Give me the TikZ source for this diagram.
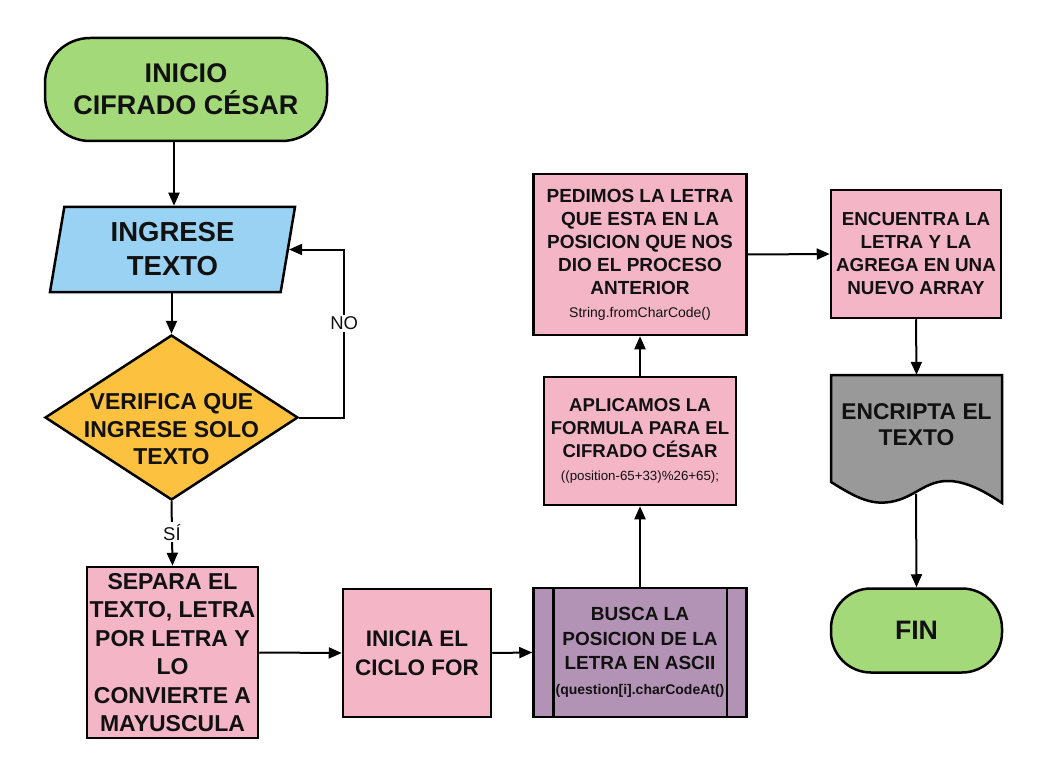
\documentclass[tikz,border=0pt]{standalone}
\usepackage{fontspec}
\setmainfont{Liberation Sans}
\usetikzlibrary{shapes.geometric,arrows.meta,calc}
\definecolor{cgreen}{HTML}{A4D97A}
\definecolor{cblue}{HTML}{9AD2F3}
\definecolor{cyellow}{HTML}{FCC23F}
\definecolor{cpink}{HTML}{F4B6C7}
\definecolor{cpurple}{HTML}{B393B5}
\definecolor{cgray}{HTML}{999999}
\definecolor{ctext}{HTML}{111111}
\newcommand{\fs}[2]{\fontsize{#1}{#2}\selectfont}
\begin{document}
\begin{tikzpicture}[x=1pt,y=-1pt,
  box/.style={draw=black, line width=2.5pt, inner sep=0pt, align=center, text=ctext},
  pill/.style={box, fill=cgreen, rounded corners=45pt},
  procbox/.style={box, fill=cpink},
  arr/.style={line width=2pt, -{Triangle[length=13pt,width=11pt]}},
  lbl/.style={fill=white, inner sep=2pt, font=\fs{18.5}{22}, text=ctext}]
\fill[white] (0,0) rectangle (1061,765);
\useasboundingbox (0,0) rectangle (1061,765);

% start
\node[pill, minimum width=282pt, minimum height=103pt, font=\bfseries\fs{27}{32}] (start) at (186,89.5) {INICIO\\CIFRADO CÉSAR};

% input
\node[box, fill=cblue, shape=trapezium, trapezium left angle=75, trapezium right angle=105,
  trapezium stretches body, minimum width=245pt, minimum height=85pt,
  font=\bfseries\fs{27.5}{34}] (ingreso) at (172.5,249.5) {INGRESE\\TEXTO};

% decision
\node[box, fill=cyellow, shape=diamond, minimum width=253pt, minimum height=165pt,
  label={[yshift=-12pt, align=center, text=ctext, font=\bfseries\fs{23}{27.5}]center:{VERIFICA QUE\\INGRESE SOLO\\TEXTO}}] (verifica) at (171.5,417.5) {};

% process boxes
\node[procbox, minimum width=171pt, minimum height=171pt, font=\bfseries\fs{23}{28.5}] (separa) at (172.5,652.5)
  {SEPARA EL\\TEXTO, LETRA\\POR LETRA Y\\LO\\CONVIERTE A\\MAYUSCULA};
\node[procbox, minimum width=148pt, minimum height=128pt, font=\bfseries\fs{22.5}{29}] (inicia) at (417,653)
  {INICIA EL\\CICLO FOR};
\node[box, fill=cpurple, minimum width=213pt, minimum height=129pt, font=\bfseries\fs{19}{24.5}] (busca) at (640,652.5)
  {BUSCA LA\\POSICION DE LA\\LETRA EN ASCII\\{\fs{14}{20}(question[i].charCodeAt()}};
\draw[line width=2.5pt] ($(busca.north west)+(21,0)$) -- ($(busca.south west)+(21,0)$);
\draw[line width=2.5pt] ($(busca.north east)+(-21,0)$) -- ($(busca.south east)+(-21,0)$);
\node[procbox, minimum width=192pt, minimum height=128pt, font=\bfseries\fs{18.6}{23}] (aplicamos) at (640,441)
  {APLICAMOS LA\\FORMULA PARA EL\\CIFRADO CÉSAR\\{\mdseries\fs{13.3}{20}((position-65+33)\%26+65);}};
\node[procbox, minimum width=213pt, minimum height=161pt, font=\bfseries\fs{19}{23}] (pedimos) at (640,254.5)
  {PEDIMOS LA LETRA\\QUE ESTA EN LA\\POSICION QUE NOS\\DIO EL PROCESO\\ANTERIOR\\{\mdseries\fs{14}{20}String.fromCharCode()}};
\node[procbox, minimum width=170pt, minimum height=128pt, font=\bfseries\fs{18.8}{23}] (encuentra) at (916,254)
  {ENCUENTRA LA\\LETRA Y LA\\AGREGA EN UNA\\NUEVO ARRAY};

% document shape
\draw[line width=2.5pt, fill=cgray, line join=miter]
  (831,375) -- (1002,375) -- (1002,503)
  .. controls (990,495) and (970,482) .. (950,481)
  .. controls (925,480) and (915,498) .. (890,502)
  .. controls (870,505) and (855,497) .. (831,482) -- cycle;
\node[inner sep=0pt, minimum width=171pt, minimum height=100pt, align=center, text=ctext,
  font=\bfseries\fs{22.8}{26}] (encripta) at (916.5,425) {ENCRIPTA EL\\TEXTO};
\coordinate (encbot) at (916,494);

% end
\node[pill, rounded corners=40pt, minimum width=171pt, minimum height=84pt, font=\bfseries\fs{26.7}{32}] (fin) at (916.5,630.5) {FIN};

% connectors
\draw[arr] (start.south -| 174,0) -- (174,0 |- ingreso.north);
\draw[arr] (ingreso.south -| verifica.north) -- (verifica.north);
\draw[arr] (verifica.east) -- ++(45,0) |- node[lbl, pos=0.28] {NO} (ingreso.east);
\draw[arr] (verifica.south) -- node[lbl, pos=0.48] {SÍ} (separa.north);
\draw[arr] (separa.east) -- (inicia.west);
\draw[arr] (inicia.east) -- (busca.west);
\draw[arr] (busca.north) -- (aplicamos.south);
\draw[arr] (aplicamos.north) -- (pedimos.south);
\draw[arr] (pedimos.east) -- (encuentra.west);
\draw[arr] (encuentra.south) -- (encripta.north);
\draw[arr] (encbot) -- (fin.north);
\end{tikzpicture}
\end{document}
